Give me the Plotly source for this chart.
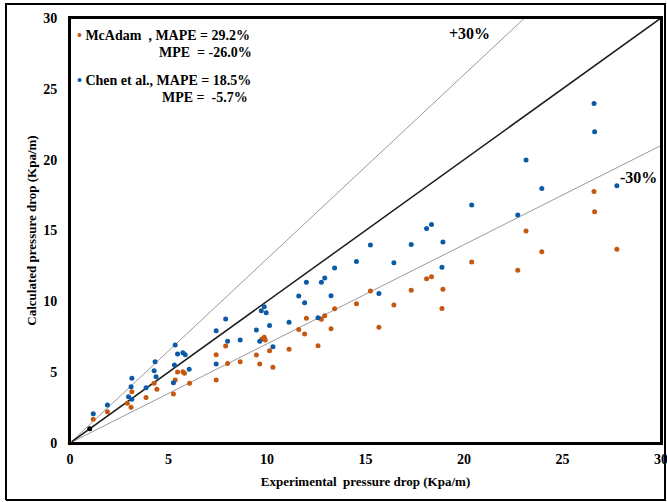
import plotly.graph_objects as go

# Experimental (x) vs calculated (y) pressure drop, Kpa/m
mcadam_x = [1.18, 1.90, 2.91, 3.10, 3.14, 3.86, 4.27, 4.41, 5.25, 5.34, 5.46, 5.73, 5.81, 6.07,
            7.42, 7.90, 7.42, 8.00, 8.64, 9.46, 9.74, 9.86, 9.91, 9.63, 10.13, 10.30, 11.12, 11.61,
            11.91, 12.00, 12.59, 12.76, 12.93, 13.25, 13.43, 14.54, 15.25, 15.68, 16.44, 17.32,
            18.10, 18.35, 18.93, 18.88, 20.39, 22.73, 23.15, 23.95, 26.60, 26.63, 27.76]
mcadam_y = [1.67, 2.21, 2.80, 2.52, 3.62, 3.22, 4.21, 3.79, 3.46, 4.45, 5.01, 5.03, 4.92, 4.21,
            6.23, 6.85, 4.45, 5.62, 5.74, 6.21, 7.34, 7.46, 7.27, 5.58, 6.51, 5.34, 6.61, 8.02,
            7.69, 8.80, 6.87, 8.73, 8.98, 8.07, 9.48, 9.83, 10.73, 8.17, 9.74, 10.78,
            11.60, 11.74, 10.85, 9.50, 12.77, 12.19, 14.96, 13.50, 17.76, 16.32, 13.67]

chen_x = [1.18, 1.90, 3.14, 3.10, 2.97, 3.14, 3.86, 4.32, 4.27, 4.37, 5.34, 5.46, 5.73, 5.85,
          5.30, 5.25, 6.05, 7.42, 7.90, 8.00, 7.42, 8.64, 9.46, 9.71, 9.86, 9.96, 10.13, 9.63,
          10.30, 11.12, 11.61, 11.91, 12.00, 12.59, 12.76, 12.93, 13.25, 13.43, 14.54, 15.25,
          15.68, 16.44, 17.32, 18.10, 18.35, 18.93, 18.88, 20.39, 22.73, 23.15, 23.95, 26.60,
          26.63, 27.76]
chen_y = [2.07, 2.68, 4.57, 3.97, 3.27, 3.08, 3.90, 5.74, 5.10, 4.68, 6.92, 6.28, 6.37, 6.23,
          5.50, 4.26, 5.20, 7.93, 8.75, 7.18, 5.58, 7.27, 7.97, 9.34, 9.62, 9.20, 8.30, 7.18,
          6.80, 8.52, 10.37, 9.90, 11.34, 8.84, 11.34, 11.64, 10.40, 12.35, 12.82, 13.97,
          10.56, 12.73, 14.02, 15.15, 15.43, 14.18, 12.40, 16.80, 16.09, 19.97, 17.97, 23.97,
          21.97, 18.16]

ref_x = [0, 30]
diag_y = [0, 30]
upper_y = [0, 39]
lower_y = [0, 21]

ORANGE = "#C4580F"
BLUE = "#0C5AA6"
FONT = "Liberation Serif"

W, H = 667, 502
ML, MR, MT, MB = 5, 1, 3, 1          # outer frame area
PL, PR, PT, PB = 70, 661, 18, 443    # plot area in pixels
pw, ph = W - ML - MR, H - MT - MB
dom_x = [(PL - ML) / pw, (PR - ML) / pw]
dom_y = [(H - MB - PB) / ph, (H - MB - PT) / ph]
ix, iy = 1.0 / pw, 1.0 / ph
frame_x = [ix, 1 - ix, 1 - ix, ix, ix]
frame_y = [iy, iy, 1 - iy, 1 - iy, iy]

fig = go.Figure()
fig.add_trace(go.Scatter(x=frame_x, y=frame_y, xaxis="x2", yaxis="y2", mode="lines",
                         line=dict(color="black", width=2), hoverinfo="skip"))
fig.add_trace(go.Scatter(x=ref_x, y=upper_y, mode="lines", line=dict(color="#9a9a9a", width=1), hoverinfo="skip"))
fig.add_trace(go.Scatter(x=ref_x, y=lower_y, mode="lines", line=dict(color="#9a9a9a", width=1), hoverinfo="skip"))
fig.add_trace(go.Scatter(x=ref_x, y=diag_y, mode="lines", line=dict(color="#1a1a1a", width=1.5), hoverinfo="skip"))
fig.add_trace(go.Scatter(x=mcadam_x, y=mcadam_y, mode="markers", marker=dict(color=ORANGE, size=5)))
fig.add_trace(go.Scatter(x=chen_x, y=chen_y, mode="markers", marker=dict(color=BLUE, size=5)))
fig.add_trace(go.Scatter(x=[1], y=[1], mode="markers", marker=dict(color="black", size=5)))
fig.add_trace(go.Scatter(x=[0], y=[0], mode="markers", marker=dict(color="#F2B705", size=5), cliponaxis=False))

axis_common = dict(range=[0, 30], dtick=5, showgrid=False, zeroline=False, automargin=False,
                   showline=True, linecolor="black", linewidth=2, mirror=True,
                   ticks="", tickfont=dict(family=FONT, size=14, color="black", weight="bold"))
title_font = dict(family=FONT, size=13, color="black", weight="bold")
frame_axis = dict(domain=[0, 1], range=[0, 1], showline=False, showgrid=False, zeroline=False,
                  showticklabels=False, ticks="", automargin=False, fixedrange=True)

fig.update_layout(
    xaxis=dict(**axis_common, domain=dom_x, anchor="y", ticklabelstandoff=2, ticklabeloverflow="allow",
               title=dict(text="Experimental  pressure drop (Kpa/m)", font=title_font, standoff=11)),
    yaxis=dict(**axis_common, domain=dom_y, anchor="x", ticklabelstandoff=8,
               title=dict(text="Calculated pressure drop (Kpa/m)", font=title_font, standoff=4)),
    xaxis2=dict(**frame_axis, anchor="y2"),
    yaxis2=dict(**frame_axis, anchor="x2"),
)

ann_font = dict(family=FONT, size=14, color="black", weight="bold")
lbl_font = dict(family=FONT, size=16, color="black", weight="bold")
annotations = [
    dict(x=20.3, y=28.9, text="+30%", showarrow=False, font=lbl_font),
    dict(x=29.9, y=18.72, text="-30%", showarrow=False, xanchor="right", font=lbl_font),
    dict(xref="x domain", yref="y domain", x=0.008, y=0.96, xanchor="left", yanchor="middle", showarrow=False,
         text=f"<span style='color:{ORANGE}'>•</span> McAdam  , MAPE = 29.2%", font=ann_font),
    dict(xref="x domain", yref="y domain", x=0.148, y=0.918, xanchor="left", yanchor="middle", showarrow=False,
         text="MPE  = -26.0%", font=ann_font),
    dict(xref="x domain", yref="y domain", x=0.008, y=0.854, xanchor="left", yanchor="middle", showarrow=False,
         text=f"<span style='color:{BLUE}'>•</span> Chen et al., MAPE = 18.5%", font=ann_font),
    dict(xref="x domain", yref="y domain", x=0.152, y=0.812, xanchor="left", yanchor="middle", showarrow=False,
         text="MPE =  -5.7%", font=ann_font),
]

fig.update_layout(
    width=W, height=H,
    margin=dict(l=ML, r=MR, t=MT, b=MB, autoexpand=False),
    paper_bgcolor="white", plot_bgcolor="rgba(0,0,0,0)",
    showlegend=False,
    annotations=annotations,
    shapes=[dict(type="rect", xref="x domain", yref="y domain", x0=0, x1=1, y0=0, y1=1,
                 line=dict(color="black", width=2), layer="above")],
)

fig.write_html("out.html", config={"displayModeBar": False},
               post_script="document.body.style.margin='0px';")
